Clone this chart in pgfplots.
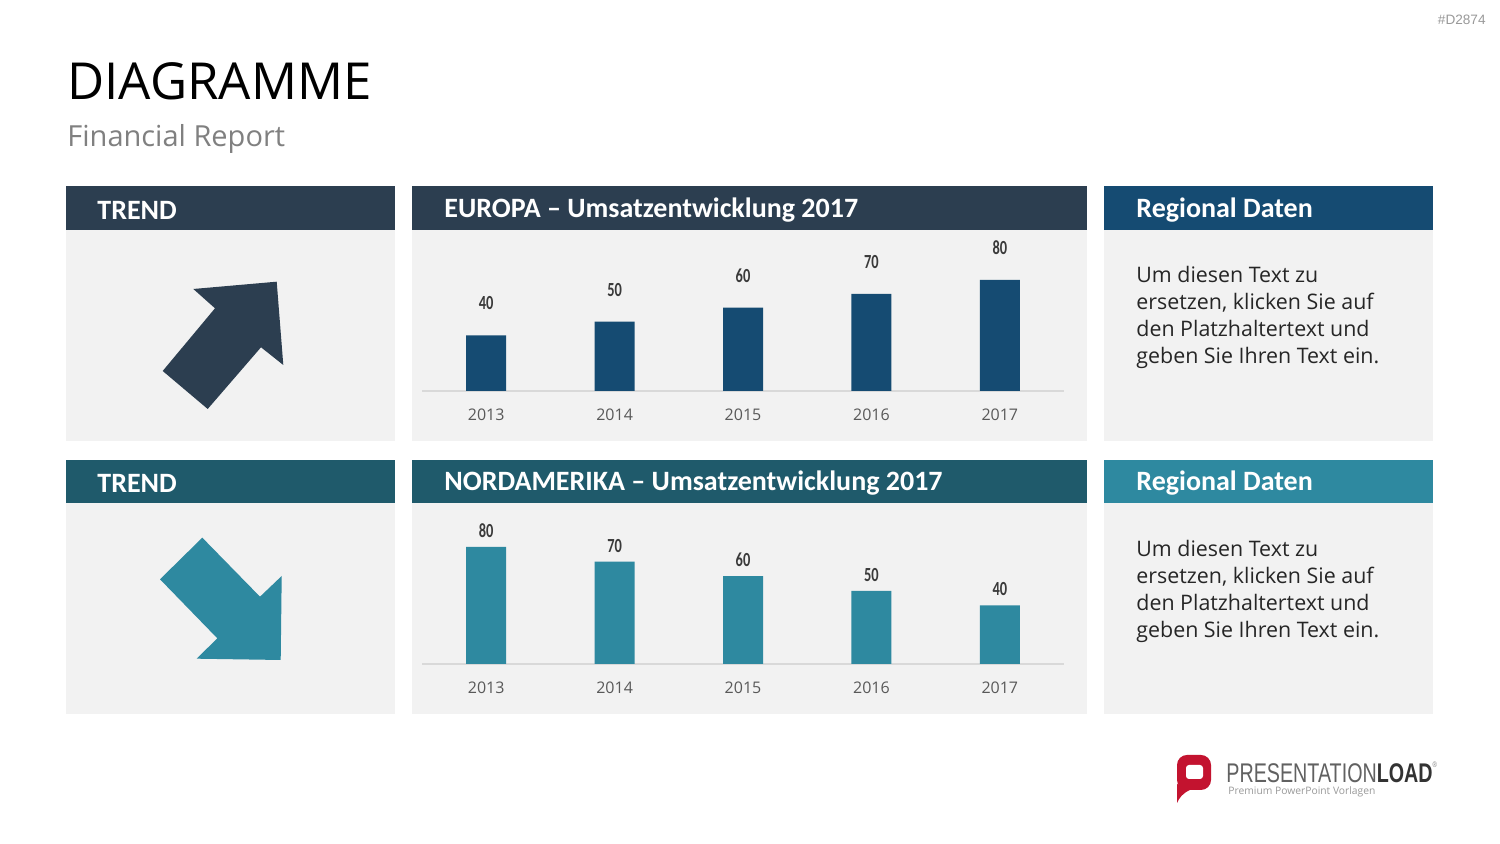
\documentclass[border=0pt]{standalone}
\usepackage{pgfplots}
\pgfplotsset{compat=1.18}
\usepackage{fontspec}
\setmainfont{Open Sans}
\newfontfamily\hdfont{Carlito}
\newfontfamily\numfont[FakeStretch=0.72]{Carlito}
\newfontfamily\logofont[FakeStretch=0.73]{Liberation Sans}
\newfontfamily\arialfont{Liberation Sans}

\definecolor{slate}{HTML}{2C3E50}
\definecolor{navy}{HTML}{154B72}
\definecolor{deepteal}{HTML}{1F5A6B}
\definecolor{tealc}{HTML}{2E89A0}
\definecolor{panel}{HTML}{F2F2F2}
\definecolor{yeargray}{HTML}{595959}
\definecolor{valgray}{HTML}{3A3A3A}
\definecolor{basegray}{HTML}{D9D9D9}
\definecolor{plred}{HTML}{C3132F}
\definecolor{bodytext}{HTML}{262626}

\pgfplotsset{
  revenue/.style={
    scale only axis, width=321pt, height=80.5pt,
    xmin=-0.5, xmax=4.5, ymin=0,
    ybar, bar width=20pt, bar shift=0pt,
    axis x line=bottom, axis y line=none,
    axis line style={-, draw=basegray, line width=0.6pt},
    xtick={0,...,4}, xticklabels={2013,2014,2015,2016,2017},
    major tick length=0pt,
    xticklabel style={anchor=center, yshift=-12pt,
      font=\fontsize{8}{9}\selectfont, text=yeargray},
    /pgf/number format/assume math mode=true,
    nodes near coords,
    every node near coord/.append style={anchor=center,
      font=\numfont\bfseries\fontsize{10}{10}\selectfont, text=valgray},
    clip=false,
  }
}

\newcommand{\headtext}[1]{{\hdfont\bfseries\fontsize{14}{16}\selectfont\color{white}#1}}

\begin{document}
\begin{tikzpicture}[x=0.5pt,y=0.5pt]
\useasboundingbox (0,0) rectangle (1500,844);
\fill[white] (0,0) rectangle (1500,844);

% page title
\node[anchor=base west, inner sep=0pt, font=\fontsize{25.5}{30}\selectfont, text=black] at (67,744) {DIAGRAMME};
\node[anchor=base west, inner sep=0pt, font=\fontsize{14.5}{17}\selectfont, text=black!50] at (67,697) {Financial Report};
\node[anchor=base east, inner sep=0pt, font=\arialfont\fontsize{6.8}{8}\selectfont, text=black!40] at (1486,819) {\#D2874};

% panel bodies
\fill[panel] (66,614) rectangle (395,403);
\fill[panel] (412,614) rectangle (1087,403);
\fill[panel] (1104,614) rectangle (1433,403);
\fill[panel] (66,341) rectangle (395,130);
\fill[panel] (412,341) rectangle (1087,130);
\fill[panel] (1104,341) rectangle (1433,130);

% panel headers
\fill[slate] (66,658) rectangle (395,614);
\fill[slate] (412,658) rectangle (1087,614);
\fill[navy] (1104,658) rectangle (1433,614);
\fill[deepteal] (66,384) rectangle (395,341);
\fill[deepteal] (412,384) rectangle (1087,341);
\fill[tealc] (1104,384) rectangle (1433,341);

\node[anchor=west, inner sep=0pt] at (97,634) {\headtext{TREND}};
\node[anchor=west, inner sep=0pt] at (444,634) {\headtext{EUROPA – Umsatzentwicklung 2017}};
\node[anchor=west, inner sep=0pt] at (1136,634) {\headtext{Regional Daten}};
\node[anchor=west, inner sep=0pt] at (97,361) {\headtext{TREND}};
\node[anchor=west, inner sep=0pt] at (444,361) {\headtext{NORDAMERIKA – Umsatzentwicklung 2017}};
\node[anchor=west, inner sep=0pt] at (1136,361) {\headtext{Regional Daten}};

% trend arrows
\fill[slate] (276.7,562.3) -- (193.3,555) -- (215,535.7) -- (162.7,473) -- (207.7,435) -- (261,496.7) -- (283.3,479) -- cycle;
\fill[tealc] (202.3,306.3) -- (260,247.3) -- (281.7,268) -- (280.7,184) -- (196.7,185.3) -- (217.3,205.7) -- (160,264.7) -- cycle;

% placeholder text
\foreach \y/\t in {561/Um diesen Text zu, 534/{ersetzen, klicken Sie auf}, 507/den Platzhaltertext und, 480/geben Sie Ihren Text ein.} {
  \node[anchor=base west, inner sep=0pt, font=\fontsize{10.7}{13.5}\selectfont, text=bodytext] at (1136,\y) {\t};
}
\foreach \y/\t in {287/Um diesen Text zu, 260/{ersetzen, klicken Sie auf}, 233/den Platzhaltertext und, 206/geben Sie Ihren Text ein.} {
  \node[anchor=base west, inner sep=0pt, font=\fontsize{10.7}{13.5}\selectfont, text=bodytext] at (1136,\y) {\t};
}

% Europe
\begin{axis}[revenue, at={(211pt,226.5pt)}, anchor=south west, ymax=116,
  every node near coord/.append style={yshift=16pt}]
\addplot[fill=navy, draw=none] coordinates {(0,40) (1,50) (2,60) (3,70) (4,80)};
\end{axis}

% North America
\begin{axis}[revenue, at={(211pt,90pt)}, anchor=south west, ymax=110,
  every node near coord/.append style={yshift=8pt}]
\addplot[fill=tealc, draw=none] coordinates {(0,80) (1,70) (2,60) (3,50) (4,40)};
\end{axis}

% logo
\fill[plred, rounded corners=5pt] (1177,54) -- (1211,54) -- (1211,89) -- (1177,89) -- cycle;
\fill[plred] (1177,60) -- (1190,54) .. controls (1183,51) and (1179,46) .. (1177,41) -- cycle;
\fill[white, rounded corners=1.5pt] (1186,79) rectangle (1203,65);
\node[anchor=base west, inner sep=0pt, font=\logofont\fontsize{13.5}{15}\selectfont] at (1226,61)
  {\color{black!62}PRESENTATION\color{black!80}\bfseries LOAD\raisebox{1.1ex}{\fontsize{4}{4}\selectfont\mdseries\color{black!50}®}};
\node[anchor=base west, inner sep=0pt, font=\fontsize{5.15}{6}\selectfont, text=black!40] at (1228,49) {Premium PowerPoint Vorlagen};
\end{tikzpicture}
\end{document}
